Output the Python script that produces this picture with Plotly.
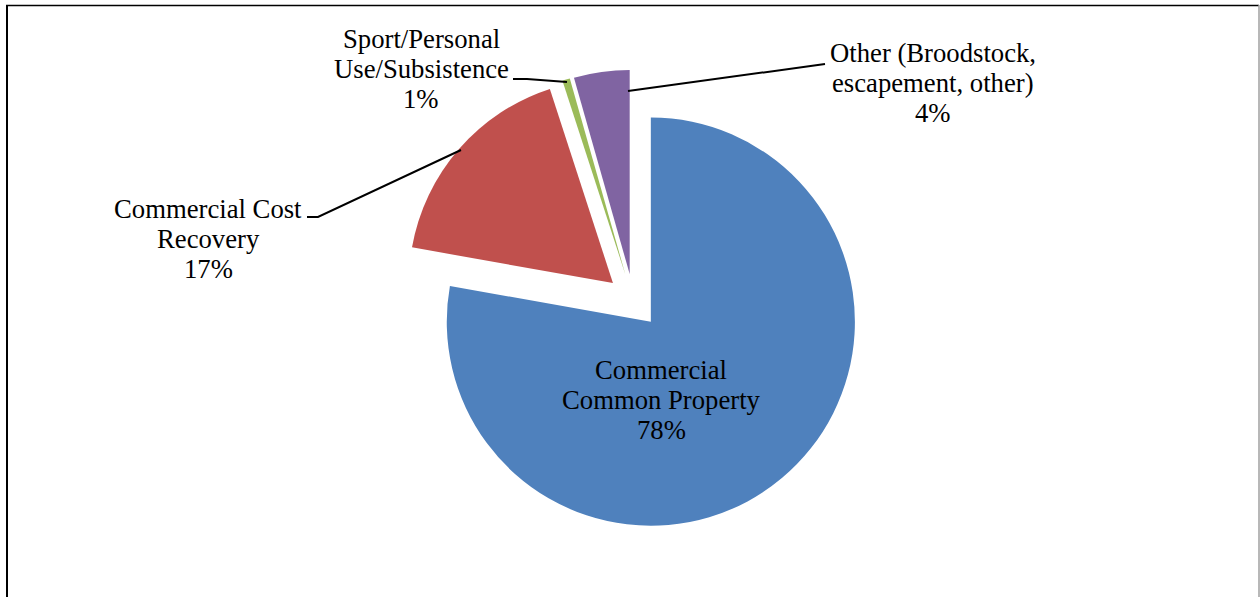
import plotly.graph_objs as go

# slice data, clockwise from 12 o'clock
categories = ['Commercial Common Property', 'Commercial Cost Recovery',
              'Sport/Personal Use/Subsistence', 'Other (Broodstock, escapement, other)']
values = [77.8, 17.2, 0.6, 4.4]
colors = ['#4F81BD', '#C0504D', '#9BBB59', '#8064A2']

# how each label is broken into lines (the percent goes on the last line)
label_lines = [
    ['Commercial', 'Common Property'],
    ['Commercial Cost', 'Recovery'],
    ['Sport/Personal', 'Use/Subsistence'],
    ['Other (Broodstock,', 'escapement, other)'],
]

W, H = 1260, 597
FONT = 'Liberation Serif, Times New Roman, serif'


def px(x, y):
    return x / W, 1 - y / H


total = sum(values)
percents = ['%d%%' % round(v / total * 100) for v in values]

fig = go.Figure()
fig.add_trace(go.Pie(
    labels=categories,
    values=values,
    sort=False,
    direction='clockwise',
    rotation=0,
    pull=[0.133] * len(values),
    marker=dict(colors=colors, line=dict(width=0)),
    textinfo='none',
    hoverinfo='label+percent',
    showlegend=False,
    domain=dict(x=[0.3192, 0.6862], y=[0.1085, 0.8835]),
))

# label blocks: (centre x, centre y of first line)
label_pos = [(661, 369.5), (208, 208.5), (421, 38.5), (932.5, 53)]
for lines, pct, (cx, cy) in zip(label_lines, percents, label_pos):
    for i, txt in enumerate(lines + [pct]):
        x, y = px(cx, cy + i * 30)
        fig.add_annotation(x=x, y=y, xref='paper', yref='paper', text=txt,
                           showarrow=False, xanchor='center', yanchor='middle',
                           font=dict(family=FONT, size=26.7, color='black'))

# leader lines
leaders = [
    [(307, 217), (318, 217), (461, 150)],
    [(513, 79), (527, 79), (567, 82)],
    [(628, 91), (825, 64)],
]
for pts in leaders:
    path = 'M ' + ' L '.join('%f %f' % px(x, y) for x, y in pts)
    fig.add_shape(type='path', path=path, xref='paper', yref='paper',
                  line=dict(color='black', width=2))

# chart frame
fig.add_shape(type='line', x0=px(7, 0)[0], x1=px(7, 0)[0], y0=0, y1=px(0, 5)[1],
              xref='paper', yref='paper', line=dict(color='black', width=2))
fig.add_shape(type='line', x0=px(6, 0)[0], x1=px(1259, 0)[0], y0=px(0, 5.5)[1], y1=px(0, 5.5)[1],
              xref='paper', yref='paper', line=dict(color='black', width=1.3))
fig.add_shape(type='line', x0=px(1259, 0)[0], x1=px(1259, 0)[0], y0=0, y1=px(0, 5)[1],
              xref='paper', yref='paper', line=dict(color='#A0A0A0', width=1.5))

fig.update_layout(
    width=W,
    height=H,
    margin=dict(l=0, r=0, t=0, b=0),
    paper_bgcolor='white',
    plot_bgcolor='white',
    font=dict(family=FONT, size=26, color='black'),
)

# drop the default page margin so the figure sits at the window's corner
fig.write_html('out.html', config={'displayModeBar': False},
               post_script="document.body.style.margin='0';")
